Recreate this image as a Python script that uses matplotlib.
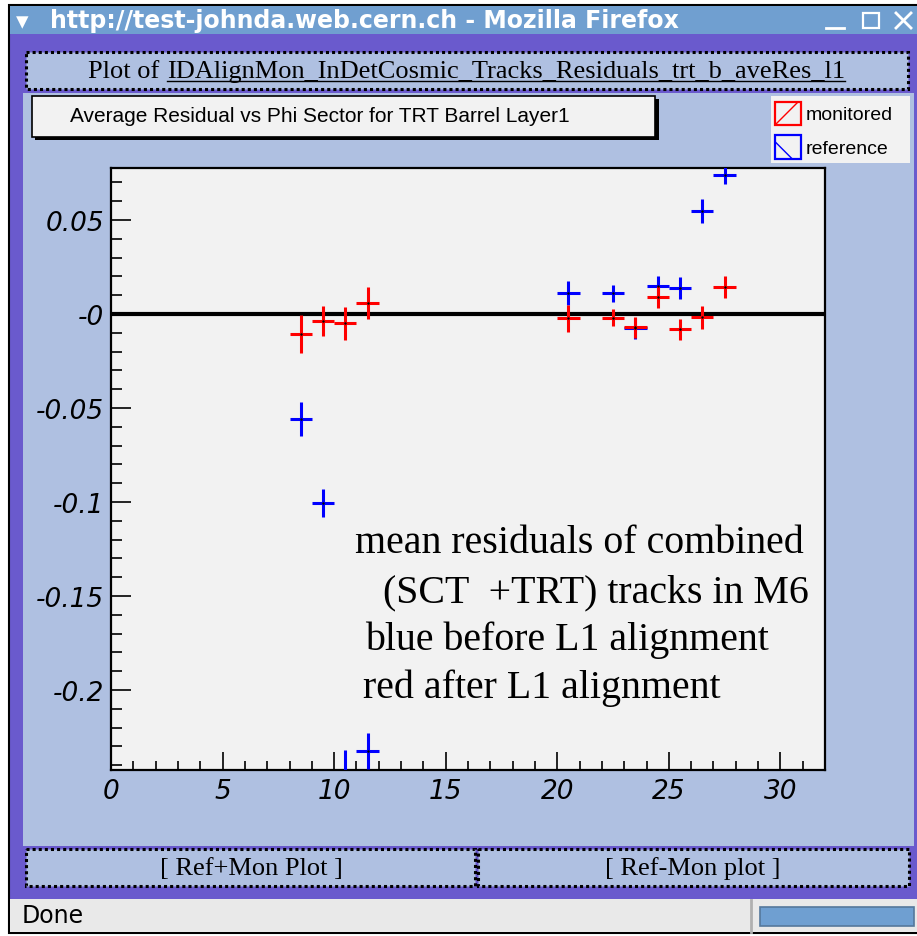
import matplotlib
matplotlib.use("Agg")
import matplotlib.pyplot as plt
from matplotlib.patches import Rectangle

W, H = 917, 937

# mean residual per phi sector (bin centres), TRT barrel layer 1
mon_x = [8.5, 9.5, 10.5, 11.5, 20.5, 22.5, 23.5, 24.5, 25.5, 26.5, 27.5]
mon_y = [-0.0106, -0.0036, -0.0048, 0.0058, -0.0023, -0.0020, -0.0070, 0.0090, -0.0080, -0.0017, 0.0144]
mon_err = [0.0100, 0.0080, 0.0088, 0.0085, 0.0070, 0.0045, 0.0056, 0.0058, 0.0056, 0.0060, 0.0058]

ref_x = [8.5, 9.5, 10.5, 11.5, 20.5, 22.5, 23.5, 24.5, 25.5, 26.5, 27.5]
ref_y = [-0.0559, -0.1005, -0.2500, -0.2324, 0.0112, 0.0110, -0.0075, 0.0150, 0.0138, 0.0548, 0.0740]
ref_err = [0.0090, 0.0075, 0.0180, 0.0095, 0.0064, 0.0045, 0.0056, 0.0050, 0.0060, 0.0064, 0.0048]

bin_half = 0.5

xticks = [0, 5, 10, 15, 20, 25, 30]
yticks = [0.05, 0, -0.05, -0.1, -0.15, -0.2]
ylabels = ["0.05", "-0", "-0.05", "-0.1", "-0.15", "-0.2"]

note_lines = ["mean residuals of combined",
              "(SCT  +TRT) tracks in M6",
              "blue before L1 alignment",
              "red after L1 alignment"]

TITLEBAR = "#709fd0"
PURPLE = "#6a5acd"
PANEL = "#afc0e1"
PAD = "#f2f2f2"

fig = plt.figure(figsize=(W / 100, H / 100), dpi=100)
fig.patch.set_facecolor("white")

# background axes in pixel coordinates for the browser window chrome
bg = fig.add_axes([0, 0, 1, 1])
bg.set_xlim(0, W)
bg.set_ylim(H, 0)
bg.axis("off")


def box(x0, y0, x1, y1, **kw):
    bg.add_patch(Rectangle((x0, y0), x1 - x0, y1 - y0, **kw))


def txt(x, y, s, **kw):
    return fig.text(x / W, 1 - y / H, s, **kw)


# window frame
box(9, 6, W + 5, 934, fc=PURPLE, ec="black", lw=1.5)
box(10, 7, W + 5, 35, fc=TITLEBAR, ec="none")
box(23, 94, 914, 847, fc=PANEL, ec="none")
box(10, 900, W + 5, 933, fc="#e9e9e9", ec="none")
bg.plot([751, 751], [901, 933], color="#b0b0b0", lw=2)
box(760, 908, 914, 927, fc="#6f9fd1", ec="#55789c", lw=1.2)

# title bar text and buttons
txt(16, 22, "\u25be", color="white", fontsize=18, fontweight="bold",
    family="DejaVu Sans", va="center")
txt(50, 21, "http://test-johnda.web.cern.ch - Mozilla Firefox", color="white",
    fontsize=17, fontweight="bold", family="DejaVu Sans", va="center")
bg.plot([826, 844], [29, 29], color="white", lw=2)
box(863, 14, 879, 29, fc="none", ec="white", lw=1.6)
bg.plot([896, 911], [14, 29], color="white", lw=2)
bg.plot([896, 911], [29, 14], color="white", lw=2)

# dotted link boxes
dots = dict(fc=PANEL, ec="black", lw=2.2, ls=(0, (1, 1)))
box(26, 53, 908, 90, **dots)
box(26, 850, 475, 887, **dots)
box(478, 850, 909, 887, **dots)

txt(88, 72, "Plot of", family="Liberation Serif", fontsize=19, va="center")
link = txt(167, 72, "IDAlignMon_InDetCosmic_Tracks_Residuals_trt_b_aveRes_l1",
           family="Liberation Serif", fontsize=19, va="center")
txt(251, 869, "[ Ref+Mon Plot ]", family="Liberation Serif", fontsize=19,
    ha="center", va="center")
txt(693, 869, "[ Ref-Mon plot ]", family="Liberation Serif", fontsize=19,
    ha="center", va="center")
txt(22, 916, "Done", family="DejaVu Sans", fontsize=17, va="center")

# histogram title box with shadow
box(35, 100, 659, 141, fc="black", ec="none")
box(32, 97, 655, 138, fc=PAD, ec="black", lw=1.2)
txt(70, 117, "Average Residual vs Phi Sector for TRT Barrel Layer1",
    family="Liberation Sans", fontsize=15, va="center")

# legend
box(771, 97, 910, 164, fc=PAD, ec="none")
box(775, 103, 801, 126, fc="none", ec="red", lw=1.6, hatch="/")
box(775, 136, 801, 160, fc="none", ec="blue", lw=1.6, hatch="\\")
txt(806, 115, "monitored", family="Liberation Sans", fontsize=14, va="center")
txt(806, 149, "reference", family="Liberation Sans", fontsize=14, va="center")

# the plot pad
ax = fig.add_axes([111 / W, 1 - 771 / H, 714 / W, 602 / H])
ax.set_facecolor(PAD)
ax.axhline(0, color="black", lw=3, zorder=2)
ax.errorbar(ref_x, ref_y, xerr=bin_half, yerr=ref_err, fmt="none",
            ecolor="blue", elinewidth=2.2, capsize=0, zorder=3)
ax.errorbar(mon_x, mon_y, xerr=bin_half, yerr=mon_err, fmt="none",
            ecolor="red", elinewidth=2.2, capsize=0, zorder=4)
ax.plot(ref_x, ref_y, ls="none", marker=".", ms=1.5, color="black", zorder=5)
ax.plot(mon_x, mon_y, ls="none", marker=".", ms=1.5, color="black", zorder=5)

ax.set_xlim(0, 32)
ax.set_ylim(-0.2426, 0.0777)
ax.set_xticks(xticks)
ax.set_xticklabels([str(t) for t in xticks])
ax.set_xticks(range(0, 33), minor=True)
ax.set_yticks(yticks)
ax.set_yticklabels(ylabels)
ax.set_yticks([i / 100 for i in range(-24, 8)], minor=True)

for lab in ax.get_xticklabels() + ax.get_yticklabels():
    lab.set_family("DejaVu Sans")
    lab.set_style("italic")
    lab.set_fontsize(19)

ax.tick_params(axis="x", which="major", direction="in", length=13, width=1.2,
               pad=6, top=False)
ax.tick_params(axis="x", which="minor", direction="in", length=6.5, width=1.2,
               top=False)
ax.tick_params(axis="y", which="major", direction="in", length=14.5, width=1.2,
               pad=5, right=False)
ax.tick_params(axis="y", which="minor", direction="in", length=8, width=1.2,
               right=False)
for sp in ax.spines.values():
    sp.set_linewidth(1.6)

# note written on the plot
note_pos = [(355, 553), (383, 602), (365, 650), (363, 698)]
for (nx, ny), line in zip(note_pos, note_lines):
    txt(nx, ny, line, family="Liberation Serif", fontsize=28.7, va="baseline")

# underline for the link text
fig.canvas.draw()
ext = link.get_window_extent()
inv = bg.transData.inverted()
(ux0, uy0), (ux1, uy1) = inv.transform([[ext.x0, ext.y0], [ext.x1, ext.y1]])
bg.plot([ux0, ux1], [uy0 - 1, uy0 - 1], color="black", lw=1)

fig.savefig("out.png", dpi=100)
